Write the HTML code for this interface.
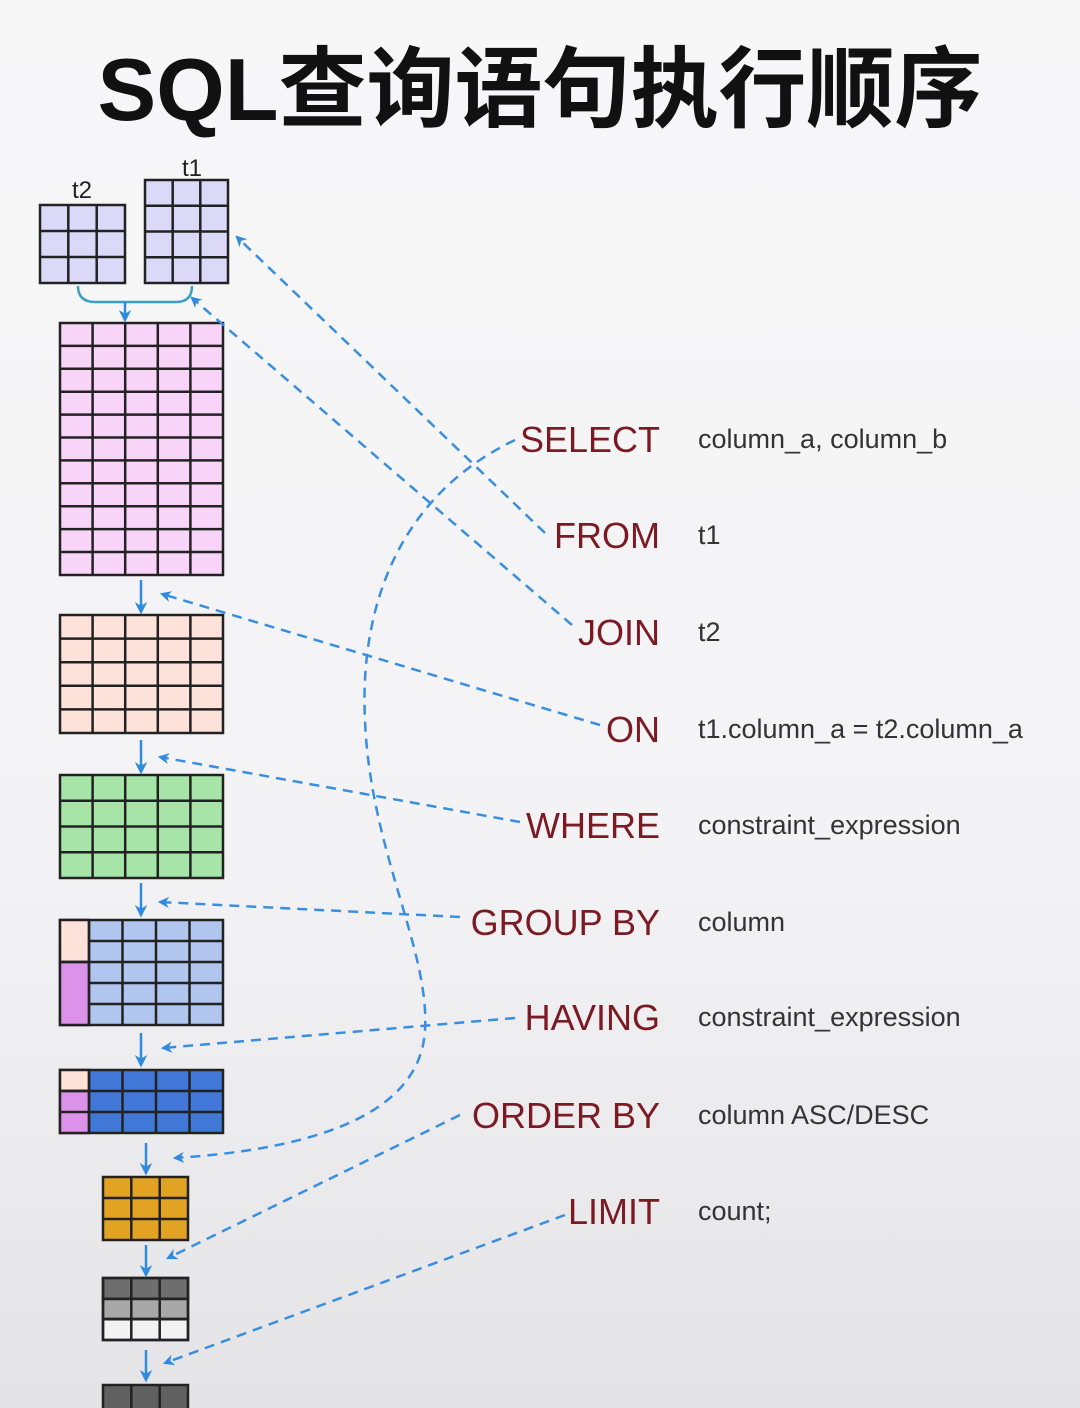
<!DOCTYPE html>
<html><head><meta charset="utf-8"><style>
html,body{margin:0;padding:0;}
body{width:1080px;height:1408px;overflow:hidden;background:linear-gradient(#f7f7f8 0%,#f3f3f5 60%,#e4e4e6 100%);}
</style></head><body>
<svg width="1080" height="1408" xmlns="http://www.w3.org/2000/svg" style="position:absolute;left:0;top:0">
<defs>
<marker id="ah" viewBox="0 0 10 10" refX="8" refY="5" markerWidth="5" markerHeight="5" orient="auto-start-reverse"><path d="M0,0 L10,5 L0,10 L3,5 z" fill="#2f8ae0"/></marker>
<marker id="dh" viewBox="0 0 10 10" refX="8" refY="5" markerWidth="4.5" markerHeight="4.5" orient="auto"><path d="M0,0 L10,5 L0,10 L3,5 z" fill="#2f8ae0"/></marker>
<clipPath id="t1c"><rect x="150" y="152" width="100" height="30"/></clipPath>
</defs>
<text x="540" y="120" text-anchor="middle" font-family="Liberation Sans, Noto Sans CJK SC, sans-serif" font-weight="bold" font-size="88" fill="#111">SQL查询语句执行顺序</text>
<text x="82" y="198" text-anchor="middle" font-family="Liberation Sans, sans-serif" font-size="24" fill="#222">t2</text>
<text x="192" y="176" text-anchor="middle" font-family="Liberation Sans, sans-serif" font-size="24" fill="#222" clip-path="url(#t1c)">t1</text>
<g stroke="#222" stroke-width="2.5" fill="none">
<rect x="40" y="205" width="85" height="78" fill="#dcd8f8"/>
<path d="M68.3,205V283M96.7,205V283M40,231H125M40,257H125"/>
<rect x="145" y="180" width="83" height="103" fill="#dcd8f8"/>
<path d="M172.7,180V283M200.3,180V283M145,205.75H228M145,231.5H228M145,257.25H228"/>
<rect x="60" y="323" width="163" height="252" fill="#f8d4f8"/>
<path d="M92.6,323V575M125.2,323V575M157.8,323V575M190.4,323V575M60,345.9H223M60,368.8H223M60,391.7H223M60,414.6H223M60,437.5H223M60,460.4H223M60,483.3H223M60,506.2H223M60,529.1H223M60,552H223"/>
<rect x="60" y="615" width="163" height="118" fill="#fde2da"/>
<path d="M92.6,615V733M125.2,615V733M157.8,615V733M190.4,615V733M60,638.6H223M60,662.2H223M60,685.8H223M60,709.4H223"/>
<rect x="60" y="775" width="163" height="103" fill="#a6e4a8"/>
<path d="M92.6,775V878M125.2,775V878M157.8,775V878M190.4,775V878M60,800.75H223M60,826.5H223M60,852.25H223"/>
<rect x="60" y="920" width="163" height="105" fill="#b0c6ee"/>
<rect x="60" y="920" width="29" height="42" fill="#fde2da"/>
<rect x="60" y="962" width="29" height="63" fill="#dc92e8"/>
<path d="M89,920V1025M122.5,920V1025M156,920V1025M189.5,920V1025M60,962H223M89,941H223M89,983H223M89,1004H223"/>
<rect x="60" y="1070" width="163" height="63" fill="#4178d8"/>
<rect x="60" y="1070" width="29" height="21" fill="#fde2da"/>
<rect x="60" y="1091" width="29" height="42" fill="#dc92e8"/>
<path d="M89,1070V1133M122.5,1070V1133M156,1070V1133M189.5,1070V1133M60,1091H223M60,1112H223"/>
<rect x="103" y="1177" width="85" height="63" fill="#e2a322"/>
<path d="M131.3,1177V1240M159.7,1177V1240M103,1198H188M103,1219H188"/>
<rect x="103" y="1278" width="85" height="21" fill="#6e6e6e"/>
<rect x="103" y="1299" width="85" height="20" fill="#a8a8a8"/>
<rect x="103" y="1319" width="85" height="21" fill="#f2f2f2"/>
<path d="M103,1278H188V1340H103Z M131.3,1278V1340M159.7,1278V1340M103,1298.7H188M103,1319.3H188"/>
<rect x="103" y="1385" width="85" height="30" fill="#606060"/>
<path d="M131.3,1385V1408M159.7,1385V1408"/>
</g>
<path d="M78,286 Q78,302 95,302 L176,302 Q192,302 192,286" stroke="#3aa0c8" stroke-width="2.5" fill="none"/>
<path d="M125,302 V320" stroke="#2f8ae0" stroke-width="2.5" fill="none" marker-end="url(#ah)"/>
<g stroke="#2f8ae0" stroke-width="2.5" fill="none" marker-end="url(#ah)">
<path d="M141,580V612"/><path d="M141,740V772"/><path d="M141,883V915"/><path d="M141,1033V1065"/>
<path d="M146,1143V1173"/><path d="M146,1245V1275"/><path d="M146,1350V1380"/>
</g>
<g stroke="#3a8ee0" stroke-width="2.5" fill="none" stroke-dasharray="10,7" marker-end="url(#dh)">
<path d="M545,533 L237,237"/>
<path d="M572,625 L192,298"/>
<path d="M515,440 C390,500 360,620 365,720 C370,850 430,950 425,1030 C420,1120 300,1150 175,1158"/>
<path d="M600,725 L162,594"/>
<path d="M520,822 L160,757"/>
<path d="M460,917 L160,902"/>
<path d="M515,1018 L163,1048"/>
<path d="M460,1115 L168,1258"/>
<path d="M565,1215 L165,1363"/>
</g>
<g font-family="Liberation Sans, sans-serif" font-size="36" fill="#7c1a24" text-anchor="end">
<text x="660" y="452">SELECT</text>
<text x="660" y="548">FROM</text>
<text x="660" y="645">JOIN</text>
<text x="660" y="742">ON</text>
<text x="660" y="838">WHERE</text>
<text x="660" y="935">GROUP BY</text>
<text x="660" y="1030">HAVING</text>
<text x="660" y="1128">ORDER BY</text>
<text x="660" y="1224">LIMIT</text>
</g>
<g font-family="Liberation Sans, sans-serif" font-size="27" fill="#333">
<text x="698" y="448">column_a, column_b</text>
<text x="698" y="544">t1</text>
<text x="698" y="641">t2</text>
<text x="698" y="738">t1.column_a = t2.column_a</text>
<text x="698" y="834">constraint_expression</text>
<text x="698" y="931">column</text>
<text x="698" y="1026">constraint_expression</text>
<text x="698" y="1124">column ASC/DESC</text>
<text x="698" y="1220">count;</text>
</g>
</svg>
</body></html>
